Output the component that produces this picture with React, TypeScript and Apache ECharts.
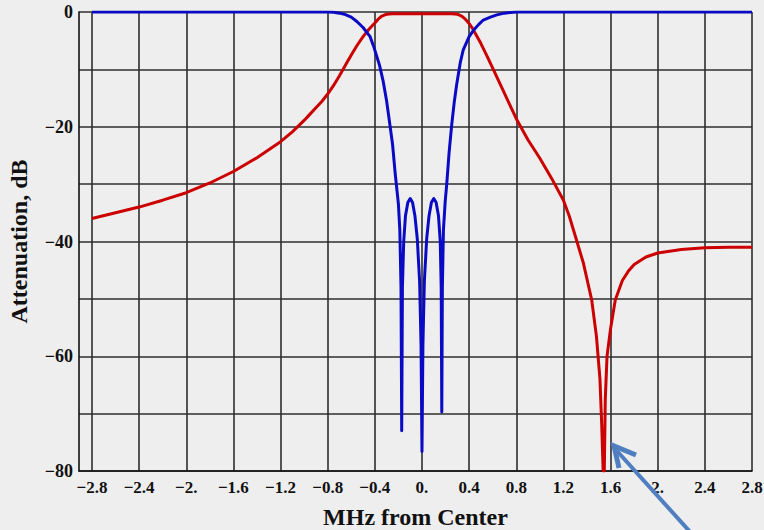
import React, { useEffect, useRef } from "react";
import * as echarts from "echarts";

// Frequency offset (MHz) and insertion response (dB) of the bandpass filter
const transX = [
  -2.8, -2.6, -2.4, -2.2, -2.0, -1.8, -1.6, -1.4, -1.2, -1.1, -1.0, -0.95, -0.9,
  -0.85, -0.8, -0.75, -0.7, -0.65, -0.6, -0.55, -0.5, -0.45, -0.4, -0.37, -0.34,
  -0.31, -0.28, -0.25, 0.0, 0.25, 0.28, 0.31, 0.34, 0.37, 0.4, 0.43, 0.46, 0.5,
  0.55, 0.6, 0.7, 0.8, 0.9, 1.0, 1.1, 1.2, 1.25, 1.3, 1.37, 1.44, 1.48, 1.51,
  1.525, 1.537, 1.547, 1.555, 1.57, 1.6, 1.64, 1.7, 1.75, 1.8, 1.9, 2.0, 2.2,
  2.4, 2.6, 2.8,
];
const transDb = [
  -36.0, -35.0, -34.0, -32.8, -31.5, -29.8, -27.8, -25.4, -22.6, -20.9, -18.9,
  -17.8, -16.7, -15.6, -14.3, -12.8, -11.1, -9.3, -7.5, -5.8, -4.3, -3.0, -1.9,
  -1.2, -0.7, -0.45, -0.35, -0.3, -0.3, -0.3, -0.35, -0.45, -0.75, -1.3, -2.0,
  -2.9, -4.0, -5.5, -7.6, -9.8, -14.2, -18.6, -22.3, -25.5, -29.0, -32.8, -35.6,
  -39.0, -43.8, -50.2, -56.5, -64.0, -72.0, -80.0, -80.0, -67.6, -60.0, -55.2,
  -50.2, -46.8, -45.2, -44.0, -42.7, -42.0, -41.4, -41.1, -41.0, -41.0,
];

// Return loss of the same filter
const reflX = [
  -2.8, -0.8, -0.75, -0.7, -0.65, -0.6, -0.55, -0.5, -0.44, -0.41, -0.36,
  -0.33, -0.3, -0.28, -0.25, -0.228, -0.2, -0.188, -0.178, -0.172, -0.166,
  -0.155, -0.14, -0.12, -0.1, -0.08, -0.06, -0.04, -0.02, -0.008, 0.0, 0.008,
  0.02, 0.04, 0.06, 0.08, 0.1, 0.12, 0.14, 0.155, 0.163, 0.168, 0.173, 0.182,
  0.197, 0.21, 0.23, 0.253, 0.275, 0.296, 0.325, 0.35, 0.4, 0.437, 0.48, 0.52,
  0.58, 0.635, 0.7, 0.8, 2.8,
];
const reflDb = [
  0, 0, -0.05, -0.2, -0.45, -0.9, -1.7, -2.7, -4.3, -6.0, -9.3, -12.0, -15.5,
  -18.5, -23.0, -28.0, -33.5, -38.0, -48.0, -73.0, -48.0, -40.0, -35.5, -33.2,
  -32.5, -33.2, -35.5, -39.5, -47.0, -58.0, -76.6, -58.0, -47.0, -39.5, -35.5,
  -33.2, -32.5, -33.2, -35.5, -40.0, -48.0, -69.7, -48.0, -38.0, -33.0, -30.0,
  -24.5, -19.5, -15.5, -12.4, -8.8, -6.6, -4.3, -3.2, -2.2, -1.4, -0.9, -0.5,
  -0.2, 0, 0,
];

// Axis ticks and their printed labels
const xTicks = [-2.8, -2.4, -2.0, -1.6, -1.2, -0.8, -0.4, 0, 0.4, 0.8, 1.2, 1.6, 2.0, 2.4, 2.8];
const xTickLabels = [
  "\u22122.8", "\u22122.4", "\u22122.", "\u22121.6", "\u22121.2", "\u22120.8", "\u22120.4",
  "0.", "0.4", "0.8", "1.2", "1.6", "2.", "2.4", "2.8",
];
const yGridTicks = [0, -10, -20, -30, -40, -50, -60, -70, -80];
const yLabelTicks = [0, -20, -40, -60, -80];
const yTickLabels = ["0", "\u221220", "\u221240", "\u221260", "\u221280"];

const GRID = "#2e2e2e";
const FONT = "'Liberation Serif', 'Times New Roman', serif";

export default function App() {
  const ref = useRef<HTMLDivElement>(null);

  useEffect(() => {
    if (!ref.current) return;
    const chart = echarts.init(ref.current, undefined, { renderer: "svg" });
    const pair = (xs: number[], ys: number[]) => xs.map((x, i) => [x, ys[i]]);

    chart.setOption({
      animation: false,
      backgroundColor: "#eeeeee",
      grid: { left: 79, right: 12, top: 12, bottom: 59, outerBoundsMode: "none", containLabel: false },
      xAxis: {
        type: "value",
        min: -2.91,
        max: 2.8,
        name: "MHz from Center",
        nameLocation: "middle",
        nameGap: 34,
        nameTextStyle: { fontFamily: FONT, fontWeight: "bold", fontSize: 24, color: "#111" },
        axisLine: { show: true, onZero: false, lineStyle: { color: "#111", width: 1.6 } },
        axisTick: { show: false, customValues: xTicks },
        axisLabel: {
          customValues: xTicks,
          margin: 8,
          fontFamily: FONT,
          fontWeight: "bold",
          fontSize: 17,
          color: "#111",
          formatter: (v: number) => {
            const i = xTicks.findIndex((t) => Math.abs(t - v) < 1e-6);
            return i >= 0 ? xTickLabels[i] : "";
          },
        },
        splitLine: { show: true, lineStyle: { color: GRID, width: 1.6 } },
      },
      yAxis: {
        type: "value",
        min: -80,
        max: 0,
        interval: 10,
        name: "Attenuation, dB",
        nameLocation: "middle",
        nameGap: 48,
        nameTextStyle: { fontFamily: FONT, fontWeight: "bold", fontSize: 24, color: "#111" },
        axisLine: { show: true, onZero: false, lineStyle: { color: "#111", width: 1.6 } },
        axisTick: { show: false, customValues: yGridTicks },
        axisLabel: {
          customValues: yLabelTicks,
          margin: 6,
          fontFamily: FONT,
          fontWeight: "bold",
          fontSize: 18,
          color: "#111",
          formatter: (v: number) => {
            const i = yLabelTicks.findIndex((t) => Math.abs(t - v) < 1e-6);
            return i >= 0 ? yTickLabels[i] : "";
          },
        },
        splitLine: { show: true, lineStyle: { color: GRID, width: 1.6 } },
      },
      series: [
        {
          type: "line",
          data: pair(transX, transDb),
          showSymbol: false,
          smooth: false,
          lineStyle: { color: "#cc0000", width: 3, join: "round" },
          z: 3,
        },
        {
          type: "line",
          data: pair(reflX, reflDb),
          showSymbol: false,
          smooth: false,
          lineStyle: { color: "#0a0ac4", width: 3, join: "round" },
          z: 4,
        },
      ],
      graphic: [
        {
          type: "line",
          shape: { x1: 692, y1: 534, x2: 617, y2: 451 },
          style: { stroke: "#4f7fc0", lineWidth: 4 },
          z: 10,
        },
        {
          type: "polyline",
          shape: { points: [[636, 455], [614, 446], [619, 468]] },
          style: { stroke: "#4f7fc0", lineWidth: 5, fill: null, lineJoin: "miter" },
          z: 10,
        },
      ],
    });
    return () => chart.dispose();
  }, []);

  return (
    <div
      ref={ref}
      style={{ position: "fixed", left: 0, top: 0, width: 764, height: 530 }}
    />
  );
}
